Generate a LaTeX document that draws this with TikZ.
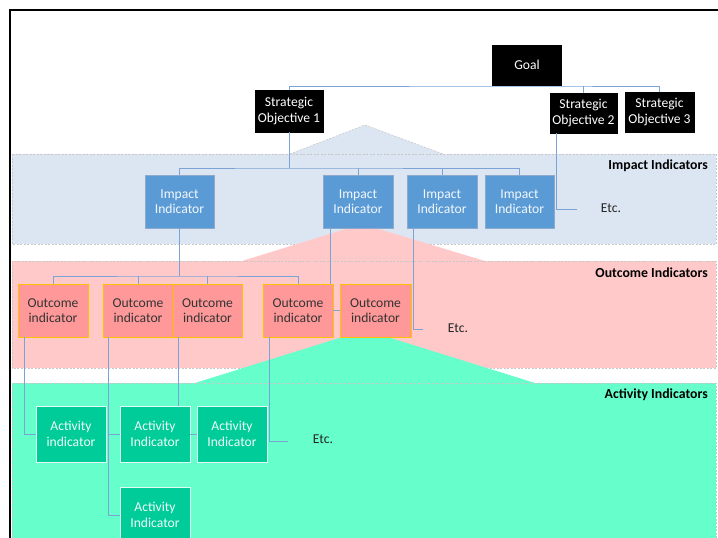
\documentclass[tikz,border=0pt]{standalone}
\usepackage{fontspec}
\setmainfont{Carlito}
\definecolor{impband}{HTML}{DCE6F2}
\definecolor{outband}{HTML}{FFC9C9}
\definecolor{actband}{HTML}{66FFCC}
\definecolor{impfill}{HTML}{5B9BD5}
\definecolor{impedge}{HTML}{8DA9CC}
\definecolor{outfill}{HTML}{FF9999}
\definecolor{outedge}{HTML}{FFC000}
\definecolor{actfill}{HTML}{00CC99}
\definecolor{actedge}{HTML}{E2FBF2}
\definecolor{linkcol}{HTML}{7BA3D6}
\definecolor{bandedge}{HTML}{C8C8C8}
\begin{document}
\begin{tikzpicture}[x=1pt,y=-1pt,
  txt/.style={font=\fontsize{13.6}{15.5}\selectfont},
  box/.style={txt,draw,line width=0.8pt,inner sep=0pt,align=center,minimum width=69pt,minimum height=53pt},
  goalbox/.style={box,fill=black,draw=black,text=white,minimum height=40pt},
  impbox/.style={box,fill=impfill,draw=impedge,text=white!92!impfill},
  outbox/.style={box,fill=outfill,draw=outedge,text=black!80,minimum width=70pt},
  actbox/.style={box,fill=actfill,draw=actedge,text=white!94!actfill,minimum width=70pt,minimum height=56pt},
  link/.style={draw=linkcol,line width=0.8pt},
  bandline/.style={draw=bandedge,dashed,line width=0.6pt,dash pattern=on 2pt off 1.5pt},
  heading/.style={font=\fontsize{13.8}{15}\selectfont\bfseries,anchor=east,inner sep=0pt},
  etc/.style={txt,text=black!85,inner sep=0pt}]
\clip (0,0) rectangle (718,538);
\fill[white] (0,0) rectangle (718,538);

% level bands with their wedges
\fill[impband] (12,154) rectangle (716,244);
\fill[impband] (290,154) -- (365,125) -- (443,154) -- cycle;
\draw[bandline] (290,154) -- (365,125) -- (443,154);
\draw[bandline] (12,154) rectangle (716,244);

\fill[outband] (12,261) rectangle (716,368);
\fill[outband] (242,261) -- (362,224) -- (485,261) -- cycle;
\draw[bandline] (12,261) rectangle (716,368);

\fill[actband] (12,383) rectangle (716,560);
\fill[actband] (195,383) -- (365,330) -- (535,383) -- cycle;
\draw[bandline] (12,383) rectangle (716,560);

% outer frame
\draw[line width=2pt] (10,545) -- (10,10) -- (725,10);

% band headings
\node[heading] (himp) at (708,166) {Impact Indicators};
\node[heading] (hout) at (708,273) {Outcome Indicators};
\node[heading] (hact) at (708,395) {Activity Indicators};

% goal and strategic objectives
\node[goalbox] (goal) at (527,65) {Goal};
\node[goalbox,minimum width=68pt,minimum height=42pt] (so1) at (289,111) {Strategic\\Objective 1};
\node[goalbox,minimum width=67pt] (so2) at (583.5,113) {Strategic\\Objective 2};
\node[goalbox] (so3) at (659.5,112) {Strategic\\Objective 3};

% impact indicators
\node[impbox] (i1) at (179.5,201.5) {Impact\\Indicator};
\node[impbox,minimum width=70pt] (i2) at (358,201.5) {Impact\\Indicator};
\node[impbox,minimum width=70pt] (i3) at (442,201.5) {Impact\\Indicator};
\node[impbox] (i4) at (519.5,201.5) {Impact\\Indicator};

% outcome indicators
\node[outbox] (o1) at (53,310.5) {Outcome\\indicator};
\node[outbox] (o2) at (138,310.5) {Outcome\\indicator};
\node[outbox,minimum width=69pt] (o3) at (207.5,310.5) {Outcome\\indicator};
\node[outbox] (o4) at (298,310.5) {Outcome\\indicator};
\node[outbox,minimum width=71pt] (o5) at (375.5,310.5) {Outcome\\indicator};

% activity indicators
\node[actbox] (a1) at (71,434) {Activity\\indicator};
\node[actbox] (a2) at (155,434) {Activity\\Indicator};
\node[actbox] (a3) at (232,434) {Activity\\Indicator};
\node[actbox] (a4) at (155,515) {Activity\\Indicator};

% continuation labels
\node[etc] (etc1) at (611,208) {Etc.};
\node[etc] (etc2) at (458,328) {Etc.};
\node[etc] (etc3) at (323,439) {Etc.};

% junction points
\coordinate (gbus) at (527,86);
\coordinate (ibus) at (289,168);
\coordinate (obus) at (179.5,276);
\coordinate (e1) at (577,209);
\coordinate (e2) at (423,329);
\coordinate (e3) at (288,441);
\coordinate (so2d) at ([xshift=7]so2.south west);
\coordinate (i2d) at ([xshift=-28]i2.south);
\coordinate (i3d) at ([xshift=7]i3.south west);
\coordinate (o1d) at ([xshift=7]o1.south west);
\coordinate (o2d) at ([xshift=6]o2.south west);
\coordinate (o3d) at ([xshift=6]o3.south west);
\coordinate (o4d) at ([xshift=7]o4.south west);

% goal to objectives
\draw[link] (so1.north) |- (gbus) -| (so3.north);
\draw[link] (so2.north) -- (so2.north |- gbus);

% objectives to impact indicators
\draw[link] (so1.south) -- (ibus);
\draw[link] (i1.north) |- (ibus) -| (i4.north);
\draw[link] (i2.north) -- (i2.north |- ibus);
\draw[link] (i3.north) -- (i3.north |- ibus);
\draw[link] (so2d) |- (e1);

% impact to outcome indicators
\draw[link] (i1.south) -- (obus);
\draw[link] (o1.north) |- (obus) -| (o4.north);
\draw[link] (o2.north) -- (o2.north |- obus);
\draw[link] (o3.north) -- (o3.north |- obus);
\draw[link] (i2d) -- (i2d |- o4.north);
\draw[link] (o4.east) -- (o5.west);
\draw[link] (i3d) |- (e2);

% outcome to activity indicators
\draw[link] (o1d) |- (a1.west);
\draw[link] (o2d) |- (a4.west);
\draw[link] (o2d |- a2.west) -- (a2.west);
\draw[link] (o3d) -- (o3d |- a2.north);
\draw[link] (a2.east) -- (a3.west);
\draw[link] (o4d) |- (e3);
\end{tikzpicture}
\end{document}
